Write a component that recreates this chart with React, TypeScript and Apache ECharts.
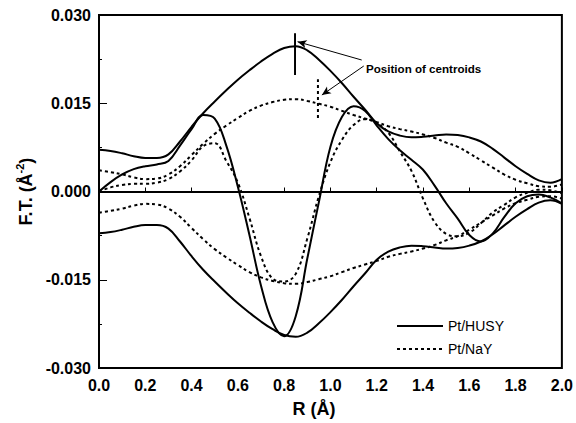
import React, { useEffect, useRef } from 'react';
import * as echarts from 'echarts';

const R = [0, 0.05, 0.1, 0.15, 0.2, 0.25, 0.3, 0.35, 0.4, 0.45, 0.5, 0.55, 0.6, 0.65, 0.7, 0.75, 0.8, 0.85, 0.9, 0.95, 1.0,
  1.05, 1.1, 1.15, 1.2, 1.25, 1.3, 1.35, 1.4, 1.45, 1.5, 1.55, 1.6, 1.65, 1.7, 1.75, 1.8, 1.85, 1.9, 1.95, 2.0];

// Pt/HUSY envelope (positive)
const husyMag = [0.0071, 0.0069, 0.0065, 0.0060, 0.0057, 0.0057, 0.0063, 0.0085, 0.0110, 0.0133, 0.0153, 0.0172, 0.0190,
  0.0206, 0.0221, 0.0234, 0.0244, 0.0247, 0.0240, 0.0224, 0.0205, 0.0184, 0.0161, 0.0139, 0.0116, 0.0102, 0.0095, 0.0092,
  0.0093, 0.0095, 0.0097, 0.0096, 0.0092, 0.0085, 0.0073, 0.0058, 0.0043, 0.0030, 0.0019, 0.0015, 0.0021];
// Pt/HUSY envelope (negative)
const husyMagNeg = [-0.0071, -0.0069, -0.0065, -0.0060, -0.0057, -0.0057, -0.0063, -0.0085, -0.0110, -0.0133, -0.0153,
  -0.0172, -0.0190, -0.0206, -0.0221, -0.0234, -0.0244, -0.0247, -0.0240, -0.0224, -0.0205, -0.0184, -0.0161, -0.0139,
  -0.0116, -0.0102, -0.0095, -0.0092, -0.0093, -0.0095, -0.0097, -0.0096, -0.0092, -0.0085, -0.0073, -0.0058, -0.0043,
  -0.0030, -0.0019, -0.0015, -0.0021];
// Pt/HUSY imaginary part
const husyIm = [0, 0.0016, 0.0029, 0.0038, 0.0043, 0.0046, 0.0052, 0.0078, 0.0106, 0.0130, 0.0124, 0.0078, 0.0008,
  -0.0074, -0.0160, -0.0222, -0.0246, -0.0212, -0.0114, -0.0018, 0.0076, 0.0127, 0.0145, 0.0137, 0.0112, 0.0089, 0.0070,
  0.0054, 0.0037, 0.0010, -0.0020, -0.0046, -0.0074, -0.0085, -0.0072, -0.0044, -0.0020, -0.0008, -0.0005, -0.0010, -0.0020];

// Pt/NaY envelope (positive)
const naYMag = [0.0036, 0.0033, 0.0029, 0.0024, 0.0021, 0.0022, 0.0029, 0.0043, 0.0062, 0.0081, 0.0098, 0.0112, 0.0125,
  0.0137, 0.0146, 0.0152, 0.0156, 0.0157, 0.0154, 0.0149, 0.0144, 0.0137, 0.0130, 0.0124, 0.0118, 0.0111, 0.0106, 0.0102,
  0.0097, 0.0091, 0.0083, 0.0076, 0.0065, 0.0053, 0.0041, 0.0029, 0.0020, 0.0014, 0.0009, 0.0008, 0.0012];
// Pt/NaY envelope (negative)
const naYMagNeg = [-0.0036, -0.0033, -0.0029, -0.0024, -0.0021, -0.0022, -0.0029, -0.0043, -0.0062, -0.0081, -0.0098,
  -0.0112, -0.0125, -0.0137, -0.0146, -0.0152, -0.0156, -0.0157, -0.0154, -0.0149, -0.0144, -0.0137, -0.0130, -0.0124,
  -0.0118, -0.0111, -0.0106, -0.0102, -0.0097, -0.0091, -0.0083, -0.0076, -0.0065, -0.0053, -0.0041, -0.0029, -0.0020,
  -0.0014, -0.0009, -0.0008, -0.0012];
// Pt/NaY imaginary part
const naYIm = [0, 0.0007, 0.0011, 0.0013, 0.0013, 0.0015, 0.0021, 0.0034, 0.0053, 0.0077, 0.0082, 0.0052, 0.0015, -0.0045,
  -0.0110, -0.0148, -0.0153, -0.0140, -0.0080, -0.0008, 0.0050, 0.0088, 0.0113, 0.0123, 0.0116, 0.0100, 0.0068, 0.0035,
  -0.0012, -0.0052, -0.0072, -0.0076, -0.0070, -0.0054, -0.0036, -0.0023, -0.0010, -0.0002, 0.0003, 0.0002, -0.0003];

// centroid markers: [R, low, high]
const centroidHusy = [0.847, 0.0198, 0.0269];
const centroidNaY = [0.946, 0.0125, 0.0191];
// annotation arrows: from (label) -> to (marker)
const arrowHusy = [[1.135, 0.02235], [0.858, 0.02546]];
const arrowNaY = [[1.144, 0.02133], [0.963, 0.0164]];

const xTicks = { min: 0, max: 2.0, step: 0.2 };
const yTicks = { min: -0.03, max: 0.03, step: 0.015 };

const FONT = 'Liberation Sans, Arial, Helvetica, sans-serif';

const zip = (xs: number[], ys: number[]) => xs.map((x, i) => [x, ys[i]]);

export default function App() {
  const ref = useRef<HTMLDivElement>(null);
  useEffect(() => {
    document.body.style.margin = '0';
    const chart = echarts.init(ref.current!, null, { renderer: 'svg' });
    const solid = { color: '#000', width: 2, type: 'solid' as const };
    const dotted = { color: '#000', width: 2, type: [3, 3] as any };
    const curve = (name: string, ys: number[], ls: any) => ({
      name,
      type: 'line',
      data: zip(R, ys),
      smooth: 0.4,
      showSymbol: false,
      symbol: 'none',
      lineStyle: ls,
      itemStyle: { color: '#000' },
      silent: true,
    });
    const option: any = {
      animation: false,
      backgroundColor: '#fff',
      grid: { left: 99, top: 15, width: 465, height: 353, show: true, borderColor: '#000', borderWidth: 2 },
      legend: {
        data: ['Pt/HUSY', 'Pt/NaY'],
        orient: 'vertical',
        left: 391,
        top: 314,
        itemWidth: 46,
        itemHeight: 14,
        itemGap: 9,
        itemStyle: { opacity: 0 },
        textStyle: { fontFamily: FONT, fontSize: 14, color: '#000' },
        selectedMode: false,
      },
      xAxis: {
        type: 'value',
        min: xTicks.min,
        max: xTicks.max,
        interval: xTicks.step,
        name: 'R (Å)',
        nameLocation: 'middle',
        nameGap: 32,
        nameTextStyle: { fontFamily: FONT, fontSize: 18, fontWeight: 'bold', color: '#000', padding: [0, 33, 0, 0] },
        axisLine: { lineStyle: { color: '#000', width: 2 } },
        axisTick: { inside: true, length: 4, lineStyle: { color: '#000', width: 1 } },
        axisLabel: {
          fontFamily: FONT, fontSize: 16, fontWeight: 'bold', color: '#000', margin: 9,
          formatter: (v: number) => v.toFixed(1),
        },
        splitLine: { show: false },
      },
      yAxis: {
        type: 'value',
        min: yTicks.min,
        max: yTicks.max,
        interval: yTicks.step,
        name: 'F.T. (Å{sup|-2})',
        nameLocation: 'middle',
        nameRotate: 90,
        nameGap: 62,
        nameTextStyle: {
          fontFamily: FONT, fontSize: 18, fontWeight: 'bold', color: '#000',
          rich: { sup: { fontFamily: FONT, fontSize: 11, fontWeight: 'bold', color: '#000', verticalAlign: 'top', lineHeight: 22 } },
        },
        axisLine: { lineStyle: { color: '#000', width: 2 } },
        axisTick: { inside: true, length: 8, lineStyle: { color: '#000', width: 1 } },
        minorTick: { show: true, splitNumber: 2, length: 3, lineStyle: { color: '#000', width: 1 } },
        axisLabel: {
          fontFamily: FONT, fontSize: 16, fontWeight: 'bold', color: '#000', margin: 8, padding: [6, 0, 0, 0],
          formatter: (v: number) => v.toFixed(3),
        },
        splitLine: { show: false },
      },
      graphic: [
        {
          type: 'text',
          left: 366,
          top: 62,
          silent: true,
          style: { text: 'Position of centroids', fontFamily: FONT, fontSize: 11.6, fontWeight: 'bold', fill: '#000' },
        },
      ],
      series: [
        {
          ...curve('Pt/HUSY', husyMag, solid),
          markLine: {
            silent: true,
            symbol: ['none', 'none'],
            label: { show: false },
            lineStyle: { color: '#000', width: 1.5, type: 'solid' },
            data: [{ yAxis: 0 }],
          },
        },
        curve('Pt/HUSY', husyMagNeg, solid),
        curve('Pt/HUSY', husyIm, solid),
        curve('Pt/NaY', naYMag, dotted),
        curve('Pt/NaY', naYMagNeg, dotted),
        curve('Pt/NaY', naYIm, dotted),
        {
          name: 'centroid HUSY',
          type: 'line',
          data: [[centroidHusy[0], centroidHusy[1]], [centroidHusy[0], centroidHusy[2]]],
          symbol: 'none',
          lineStyle: { color: '#000', width: 2 },
          silent: true,
          markLine: {
            silent: true,
            label: { show: false },
            lineStyle: { color: '#000', width: 1, type: 'solid' },
            data: [[
              { coord: arrowHusy[0], symbol: 'none' },
              { coord: arrowHusy[1], symbol: 'arrow', symbolSize: [6, 9] },
            ]],
          },
        },
        {
          name: 'centroid NaY',
          type: 'line',
          data: [[centroidNaY[0], centroidNaY[1]], [centroidNaY[0], centroidNaY[2]]],
          symbol: 'none',
          lineStyle: { color: '#000', width: 2, type: [3, 3] },
          silent: true,
          markLine: {
            silent: true,
            label: { show: false },
            lineStyle: { color: '#000', width: 1, type: 'solid' },
            data: [[
              { coord: arrowNaY[0], symbol: 'none' },
              { coord: arrowNaY[1], symbol: 'arrow', symbolSize: [6, 9] },
            ]],
          },
        },
      ],
    };
    chart.setOption(option);
    return () => chart.dispose();
  }, []);
  return <div ref={ref} style={{ width: 576, height: 423 }} />;
}
